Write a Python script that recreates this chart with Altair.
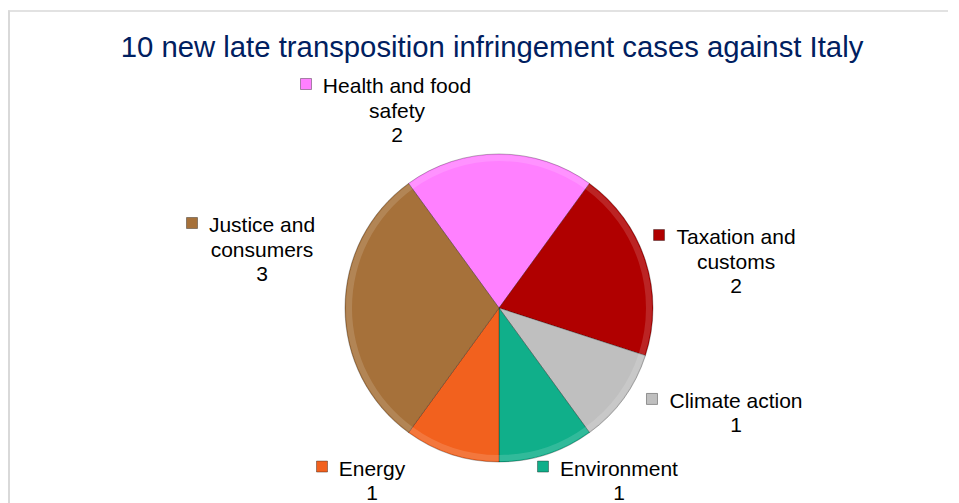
import math
import altair as alt
import pandas as pd

# ---------------- data ----------------
title_text = "10 new late transposition infringement cases against Italy"
categories = ["Health and food safety", "Taxation and customs", "Climate action",
              "Environment", "Energy", "Justice and consumers"]
label_lines = [["Health and food", "safety"], ["Taxation and", "customs"], ["Climate action"],
               ["Environment"], ["Energy"], ["Justice and", "consumers"]]
cases = [2, 2, 1, 1, 1, 3]
colors = ["#FF80FF", "#B00000", "#BFBFBF", "#10AF8A", "#F2611E", "#A6713A"]

# ---------------- layout ----------------
W, H = 940, 495
CX, CY = 491, 300          # pie centre (pixels inside the chart)
RADIUS = 154
START_DEG = -36            # first slice starts 36 degrees left of 12 o'clock
LABEL_R = 177              # anchor radius for labels
# per label: (dx, dy of first-line baseline from anchor, marker x offset from text centre)
label_offsets = {
    "Health and food safety": (-102, -38, -91),
    "Taxation and customs": (68.7, -9.3, -77),
    "Climate action": (93.8, -4.1, -84),
    "Environment": (65.3, -0.8, -76),
    "Energy": (-72.3, -0.8, -50),
    "Justice and consumers": (-60, -76, -70),
}
FONT = "Liberation Sans"

start = math.radians(START_DEG)
total = sum(cases)
rows = []
cum = 0
for i, (cat, lines, n) in enumerate(zip(categories, label_lines, cases)):
    mid = start + (cum + n / 2) / total * 2 * math.pi
    cum += n
    ax = CX + LABEL_R * math.sin(mid)
    ay = CY - LABEL_R * math.cos(mid)
    dx, dy, mdx = label_offsets[cat]
    rows.append({
        "category": cat,
        "cases": n,
        "order": i,
        "label": "\n".join(lines + [str(n)]),
        "tx": ax + dx,
        "ty": ay + dy,
        "mx": ax + dx + mdx,
        "my": ay + dy - 9,
    })
df = pd.DataFrame(rows)

color_scale = alt.Scale(domain=categories, range=colors)
theta_enc = alt.Theta("cases:Q", stack=True,
                      scale=alt.Scale(domain=[0, total], range=[start, start + 2 * math.pi]))
base = alt.Chart(df)

pie = base.mark_arc(outerRadius=RADIUS, stroke="rgba(0,0,0,0.28)", strokeWidth=1).encode(
    theta=theta_enc,
    color=alt.Color("category:N", scale=color_scale, legend=None),
    order=alt.Order("order:Q"),
    x=alt.value(CX),
    y=alt.value(CY),
)

# light bevelled rim, as on the original 3-D styled pie
rim = base.mark_arc(outerRadius=RADIUS - 1, innerRadius=RADIUS - 7, color="#FFFFFF",
                    opacity=0.14).encode(
    theta=theta_enc,
    order=alt.Order("order:Q"),
    x=alt.value(CX),
    y=alt.value(CY),
)

labels = base.mark_text(font=FONT, fontSize=21, lineHeight=24.5, align="center",
                        baseline="alphabetic", lineBreak="\n", color="#000000").encode(
    x=alt.X("tx:Q", scale=None, axis=None),
    y=alt.Y("ty:Q", scale=None, axis=None),
    text="label:N",
)

markers = base.mark_square(size=121, filled=True, opacity=1,
                           stroke="rgba(0,0,0,0.35)", strokeWidth=1).encode(
    x=alt.X("mx:Q", scale=None, axis=None),
    y=alt.Y("my:Q", scale=None, axis=None),
    color=alt.Color("category:N", scale=color_scale, legend=None),
)

title = alt.Chart(pd.DataFrame({"t": [title_text]})).mark_text(
    font=FONT, fontSize=29.3, color="#002060", align="center", baseline="alphabetic"
).encode(x=alt.value(484), y=alt.value(48.5), text="t:N")

border_left = alt.Chart(pd.DataFrame({"a": [0]})).mark_rule(color="#D9D9D9", strokeWidth=2).encode(
    x=alt.value(1), y=alt.value(2.5), y2=alt.value(H))
border_top = alt.Chart(pd.DataFrame({"a": [0]})).mark_rule(color="#D9D9D9", strokeWidth=1.3).encode(
    y=alt.value(3), x=alt.value(0), x2=alt.value(W))

chart = alt.layer(border_left, border_top, pie, rim, markers, labels, title).properties(
    width=W, height=H, padding=0,
    autosize=alt.AutoSizeParams(type="none"),
    background="#FFFFFF",
    view=alt.ViewBackground(stroke="transparent", strokeWidth=0),
).configure_view(stroke="transparent", strokeWidth=0)

chart.save("out.html", embed_options={"renderer": "svg", "actions": False})
